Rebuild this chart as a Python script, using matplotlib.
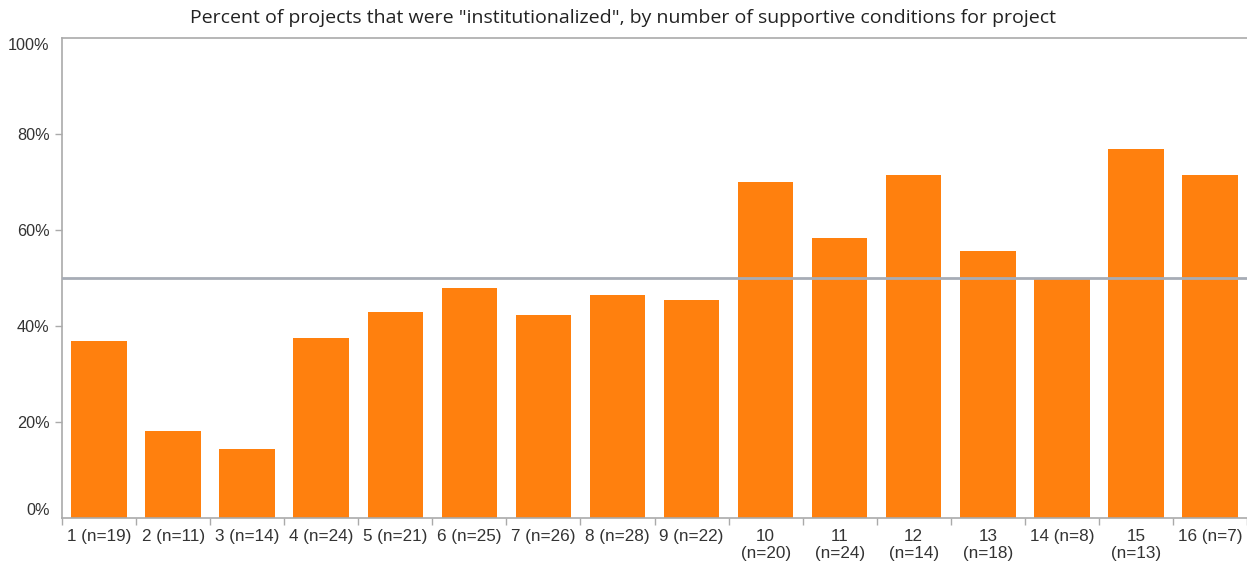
import matplotlib
matplotlib.use("Agg")
import matplotlib.pyplot as plt
from matplotlib.ticker import FixedLocator, NullFormatter

categories = ["1 (n=19)", "2 (n=11)", "3 (n=14)", "4 (n=24)", "5 (n=21)", "6 (n=25)",
              "7 (n=26)", "8 (n=28)", "9 (n=22)", "10\n(n=20)", "11\n(n=24)", "12\n(n=14)",
              "13\n(n=18)", "14 (n=8)", "15\n(n=13)", "16 (n=7)"]
values = [36.8, 18.2, 14.3, 37.5, 42.9, 48.0, 42.3, 46.4, 45.5, 70.0, 58.3, 71.4,
          55.6, 50.0, 76.9, 71.4]
reference_line = 50
yticks = [0, 20, 40, 60, 80, 100]
title = 'Percent of projects that were "institutionalized", by number of supportive conditions for project'

fig = plt.figure(figsize=(12.47, 5.62), dpi=100)
ax = fig.add_axes([62/1247, 1-518/562, 1-62/1247, (518-38)/562])

x = list(range(len(values)))
ax.bar(x, values, width=0.75, color="#ff800e", zorder=2)
ax.axhline(reference_line, color="#a7acb6", lw=2, zorder=3)

ax.set_xlim(-0.5, len(values)-0.5)
ax.set_ylim(0, 100)

ax.set_xticks(x)
ax.set_xticklabels(categories, family="Liberation Sans", fontsize=12.3, color="#333333",
                   linespacing=1.12)
ax.tick_params(axis="x", which="major", length=0, pad=8)
ax.xaxis.set_minor_locator(FixedLocator([i - 0.5 for i in range(len(values)+1)]))
ax.xaxis.set_minor_formatter(NullFormatter())
ax.tick_params(axis="x", which="minor", length=5, color="#aaaaaa", width=1)

ax.set_yticks(yticks)
ylabels = ax.set_yticklabels([f"{v}%" for v in yticks], family="Liberation Sans",
                             fontsize=11.7, color="#333333")
ylabels[0].set_va("bottom")
ylabels[-1].set_va("top")
ax.tick_params(axis="y", length=5, color="#aaaaaa", width=1, pad=4)
yt = ax.yaxis.get_major_ticks()
yt[0].tick1line.set_visible(False)
yt[-1].tick1line.set_visible(False)

for s in ["right"]:
    ax.spines[s].set_visible(False)
for s in ["left", "bottom", "top"]:
    ax.spines[s].set_color("#aaaaaa")
    ax.spines[s].set_linewidth(1.2)

fig.text(0.5, 1-18/562, title, ha="center", va="center", family="Open Sans",
         fontsize=14, color="#222222")

fig.savefig("out.png", dpi=100, facecolor="white")
